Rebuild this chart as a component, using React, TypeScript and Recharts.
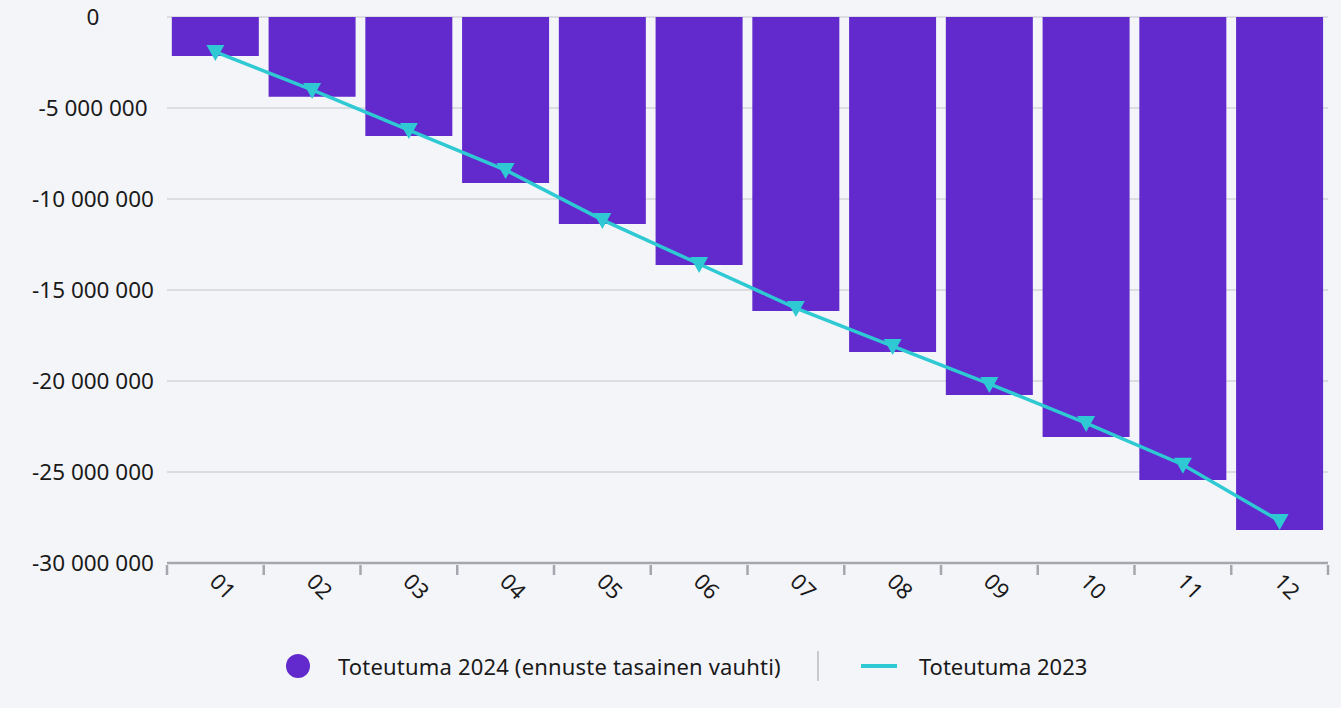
import React from "react";
import {
  ComposedChart,
  Bar,
  Line,
  XAxis,
  YAxis,
  CartesianGrid,
} from "recharts";

const months = ["01", "02", "03", "04", "05", "06", "07", "08", "09", "10", "11", "12"];
// Toteutuma 2024 (ennuste tasainen vauhti)
const toteutuma2024 = [
  -2140000, -4380000, -6540000, -9120000, -11370000, -13630000,
  -16150000, -18410000, -20770000, -23080000, -25440000, -28190000,
];
// Toteutuma 2023
const toteutuma2023 = [
  -1920000, -4010000, -6210000, -8410000, -11150000, -13570000,
  -15990000, -18080000, -20160000, -22310000, -24600000, -27690000,
];
const yTicks = [0, -5000000, -10000000, -15000000, -20000000, -25000000, -30000000];

const data = months.map((m, i) => ({
  name: m,
  t2024: toteutuma2024[i],
  t2023: toteutuma2023[i],
}));

const PURPLE = "#6229cc";
const CYAN = "#2ec9d3";
const FONT = "'Noto Sans', 'Open Sans', sans-serif";

const fmt = (v: number) => {
  const s = Math.abs(v).toString().replace(/\B(?=(\d{3})+(?!\d))/g, " ");
  return (v < 0 ? "-" : "") + s;
};

// tick marks sit on category boundaries, labels at centres
const BAND = 1161 / 12;
const XTick = (props: any) => {
  const { x, y, payload, index } = props;
  return (
    <g>
      <line x1={x - BAND / 2} x2={x - BAND / 2} y1={y - 6} y2={y + 4} stroke="#a4a7ad" strokeWidth={2.5} />
      {index === months.length - 1 && (
        <line x1={x + BAND / 2} x2={x + BAND / 2} y1={y - 6} y2={y + 4} stroke="#a4a7ad" strokeWidth={2.5} />
      )}
      <text
        x={x - 7}
        y={y + 12}
        transform={`rotate(45, ${x - 7}, ${y + 12})`}
        textAnchor="start"
        fontSize={22}
        fontFamily={FONT}
        fill="#1a1a1a"
      >
        {payload.value}
      </text>
    </g>
  );
};

const YTick = (props: any) => {
  const { y, payload } = props;
  return (
    <text
      x={93}
      y={y}
      dy="0.35em"
      textAnchor="middle"
      fontSize={22.5}
      fontFamily={FONT}
      fill="#1a1a1a"
    >
      {fmt(payload.value)}
    </text>
  );
};

const TriDot = (props: any) => {
  const { cx, cy } = props;
  if (cx == null || cy == null) return null;
  return (
    <path
      d={`M${cx - 9},${cy - 7} L${cx + 9},${cy - 7} L${cx},${cy + 9} Z`}
      fill={CYAN}
    />
  );
};

export default function App() {
  return (
    <div
      style={{
        position: "absolute",
        left: 0,
        top: 0,
        width: 1341,
        height: 708,
        background: "#f4f5f9",
        fontFamily: FONT,
      }}
    >
      <ComposedChart
        width={1341}
        height={620}
        data={data}
        barCategoryGap="5%"
        margin={{ top: 17, right: 13, left: 0, bottom: 0 }}
      >
        <CartesianGrid vertical={false} stroke="#d3d4da" strokeWidth={1.5} />
        <XAxis
          dataKey="name"
          height={57}
          axisLine={{ stroke: "#a4a7ad", strokeWidth: 2.5 }}
          tickLine={false}
          tick={<XTick />}
          interval={0}
        />
        <YAxis
          width={167}
          domain={[-30000000, 0]}
          ticks={yTicks}
          axisLine={false}
          tickLine={false}
          tick={<YTick />}
        />
        <Bar dataKey="t2024" fill={PURPLE} isAnimationActive={false} />
        <Line
          dataKey="t2023"
          stroke={CYAN}
          strokeWidth={3.5}
          dot={<TriDot />}
          activeDot={false}
          isAnimationActive={false}
        />
      </ComposedChart>
      <div
        style={{
          position: "absolute",
          left: 286,
          top: 650,
          height: 32,
          display: "flex",
          alignItems: "center",
          fontSize: 22,
          color: "#1a1a1a",
          whiteSpace: "nowrap",
        }}
      >
        <span
          style={{
            width: 24,
            height: 24,
            borderRadius: "50%",
            background: PURPLE,
            display: "inline-block",
          }}
        />
        <span style={{ marginLeft: 28, letterSpacing: 0.18 }}>
          Toteutuma 2024 (ennuste tasainen vauhti)
        </span>
        <span
          style={{
            width: 2,
            height: 30,
            background: "#c9cacf",
            display: "inline-block",
            marginLeft: 36,
          }}
        />
        <span
          style={{
            width: 36,
            height: 4,
            background: CYAN,
            display: "inline-block",
            marginLeft: 42,
          }}
        />
        <span style={{ marginLeft: 22 }}>Toteutuma 2023</span>
      </div>
    </div>
  );
}
